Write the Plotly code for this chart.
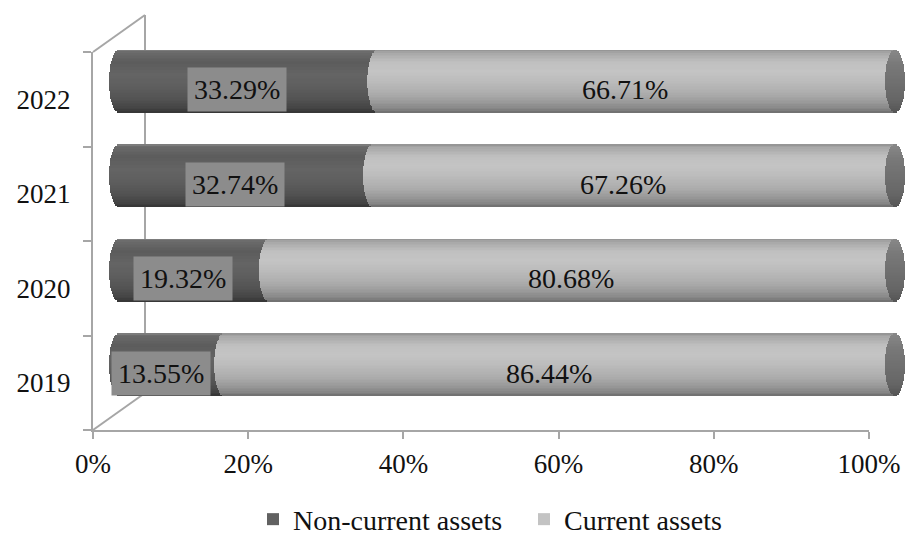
import numpy as np
import plotly.graph_objects as go

# ---- data -------------------------------------------------------------
years = ["2019", "2020", "2021", "2022"]
non_current = [13.55, 19.32, 32.74, 33.29]   # % of total assets
current = [86.44, 80.68, 67.26, 66.71]        # % of total assets
series_names = ["Non-current assets", "Current assets"]

# ---- page geometry (pixels) ---------------------------------------------
W, H = 907, 538
FONT = "Liberation Serif, Times New Roman, serif"
AXIS_GREY = "#a6a6a6"
TEXT = "#111111"

# front plane of the 3-D box
X0_PX, X1_PX = 93, 869          # 0% .. 100% on the front floor edge
Y_BOT_PX, Y_TOP_PX = 430, 52    # floor .. top of the front wall
DEPTH_DX, DEPTH_DY = 52, 37     # depth of the box (back wall offset)

# cylinders sit halfway into the box
BAR_DX, BAR_DY = DEPTH_DX / 2, DEPTH_DY / 2
scale = (X1_PX - X0_PX)          # pixels per 100%
cap_a = 10 / scale               # horizontal half-axis of the end ellipses (fraction)
bar_w = 0.66                      # cylinder thickness in category units
n_str = 40                        # horizontal shading strips per cylinder


def px_x(p):
    return p / W


def px_y(p):
    return 1 - p / H


def grey(v):
    v = int(round(max(0, min(255, v))))
    return f"rgb({v},{v},{v})"


def shade(t, stops):
    ts = [s[0] for s in stops][::-1]
    vs = [s[1] for s in stops][::-1]
    return grey(np.interp(t, ts, vs))


# light profiles from top edge (t=1) to bottom edge (t=-1)
dark_stops = [(1.0, 0x84), (0.92, 0x6a), (0.6, 0x5c), (0.2, 0x64), (-0.2, 0x5e),
              (-0.6, 0x52), (-0.88, 0x43), (-1.0, 0x34)]
light_stops = [(1.0, 0x90), (0.9, 0xa8), (0.6, 0xc0), (0.3, 0xc4), (0.0, 0xbc),
               (-0.4, 0xad), (-0.7, 0x98), (-0.9, 0x84), (-1.0, 0x6c)]
cap_stops = [(1.0, 0x88), (0.5, 0x78), (0.0, 0x70), (-0.6, 0x66), (-1.0, 0x55)]

nc = np.array(non_current) / 100
cu = np.array(current) / 100
tot = nc + cu
ypos = np.arange(len(years))

fig = go.Figure()

# invisible trace that carries the year categories on the front axis
fig.add_trace(go.Scatter(x=nc, y=years, mode="markers", marker=dict(opacity=0),
                         xaxis="x", yaxis="y", showlegend=False, hoverinfo="skip"))

strip_h = bar_w / n_str
mid = n_str // 2


def strip(k):
    t = 1 - (k + 0.5) / n_str * 2           # +1 top .. -1 bottom
    off = bar_w / 2 - (k + 1) * strip_h     # strip lower edge relative to centre
    dx = cap_a * np.sqrt(max(0.0, 1 - t * t))
    common = dict(orientation="h", y=years, offset=off - strip_h * 0.15,
                  width=strip_h * 1.3, xaxis="x2", yaxis="y2",
                  hoverinfo="skip", marker_line_width=0)
    return t, dx, common


for k in range(n_str):
    t, dx, common = strip(k)
    # non-current side surface
    fig.add_trace(go.Bar(x=nc, base=-dx + 0 * nc, marker_color=shade(t, dark_stops),
                         name=series_names[0], legendgroup="nc",
                         showlegend=(k == mid), **common))
for k in range(n_str):
    t, dx, common = strip(k)
    # current side surface (its left arc overlaps the non-current segment)
    fig.add_trace(go.Bar(x=cu, base=nc - dx, marker_color=shade(t, light_stops),
                         name=series_names[1], legendgroup="cu",
                         showlegend=(k == mid - 6), **common))
    # visible right end face
    fig.add_trace(go.Bar(x=0 * tot + 2 * dx, base=tot - dx,
                         marker_color=shade(t, cap_stops),
                         showlegend=False, **common))

# data labels, placed on the front axes and pushed into the box
annotations = []
for i, a, b in zip(ypos, nc, cu):
    annotations.append(dict(x=float(a / 2), y=int(i), xref="x", yref="y",
                            text=f"{a*100:.2f}%", showarrow=False,
                            xshift=BAR_DX - 11, yshift=BAR_DY - 9,
                            font=dict(family=FONT, size=28, color=TEXT),
                            bgcolor="#8c8c8c", borderpad=6))
    annotations.append(dict(x=float(a + b / 2), y=int(i), xref="x", yref="y",
                            text=f"{b*100:.2f}%", showarrow=False,
                            xshift=BAR_DX - 11, yshift=BAR_DY - 9,
                            font=dict(family=FONT, size=28, color=TEXT)))

# back wall edges of the 3-D box
bx0, by_top, by_bot = X0_PX + DEPTH_DX, Y_TOP_PX - DEPTH_DY, Y_BOT_PX - DEPTH_DY
line = dict(color=AXIS_GREY, width=2)
shapes = [
    dict(type="line", xref="paper", yref="paper", layer="below", line=line,
         x0=px_x(X0_PX), y0=px_y(Y_TOP_PX), x1=px_x(bx0), y1=px_y(by_top)),
    dict(type="line", xref="paper", yref="paper", layer="below", line=line,
         x0=px_x(bx0), y0=px_y(by_top), x1=px_x(bx0), y1=px_y(by_bot)),
    dict(type="line", xref="paper", yref="paper", layer="below", line=line,
         x0=px_x(X0_PX), y0=px_y(Y_BOT_PX), x1=px_x(bx0), y1=px_y(by_bot)),
]

# axis for the cylinders: same scale, shifted into the box, spanning the full width
x2_lo = -(X0_PX + BAR_DX) / scale
x2_hi = (W - X0_PX - BAR_DX) / scale

fig.update_layout(
    width=W, height=H,
    margin=dict(l=0, r=0, t=0, b=0, autoexpand=False),
    paper_bgcolor="white", plot_bgcolor="rgba(0,0,0,0)",
    barmode="overlay", bargap=0,
    font=dict(family=FONT, size=27, color=TEXT),
    showlegend=True,
    legend=dict(orientation="h", x=px_x(253), xanchor="left", y=-0.012,
                yanchor="bottom", font=dict(family=FONT, size=28, color=TEXT),
                traceorder="normal", bgcolor="rgba(0,0,0,0)",
                entrywidth=226, entrywidthmode="pixels"),
    xaxis=dict(domain=[px_x(X0_PX), px_x(X1_PX)], range=[0, 1], anchor="y",
               tickformat=".0%", dtick=0.2, tick0=0, showgrid=False, zeroline=False,
               showline=True, linecolor=AXIS_GREY, linewidth=2, automargin=False,
               ticks="outside", ticklen=7, tickwidth=2, tickcolor=AXIS_GREY,
               tickfont=dict(family=FONT, size=27, color=TEXT),
               ticklabelstandoff=2, fixedrange=True),
    yaxis=dict(domain=[px_y(Y_BOT_PX), px_y(Y_TOP_PX)], type="category",
               categoryorder="array", categoryarray=years, range=[-0.5, 3.5],
               anchor="x", showgrid=False, zeroline=False, showline=True,
               linecolor=AXIS_GREY, linewidth=2, ticks="outside", tickson="boundaries",
               ticklen=8, tickwidth=2, tickcolor=AXIS_GREY, automargin=False,
               tickfont=dict(family=FONT, size=27, color=TEXT),
               ticklabelstandoff=15, fixedrange=True),
    xaxis2=dict(domain=[0, 1], range=[x2_lo, x2_hi], anchor="y2",
                visible=False, fixedrange=True, automargin=False),
    yaxis2=dict(domain=[px_y(Y_BOT_PX - BAR_DY), px_y(Y_TOP_PX - BAR_DY)],
                type="category", categoryorder="array", categoryarray=years,
                range=[-0.5, 3.5], anchor="x2", visible=False,
                fixedrange=True, automargin=False),
    annotations=annotations,
    shapes=shapes,
)

fig.write_html("out.html")
